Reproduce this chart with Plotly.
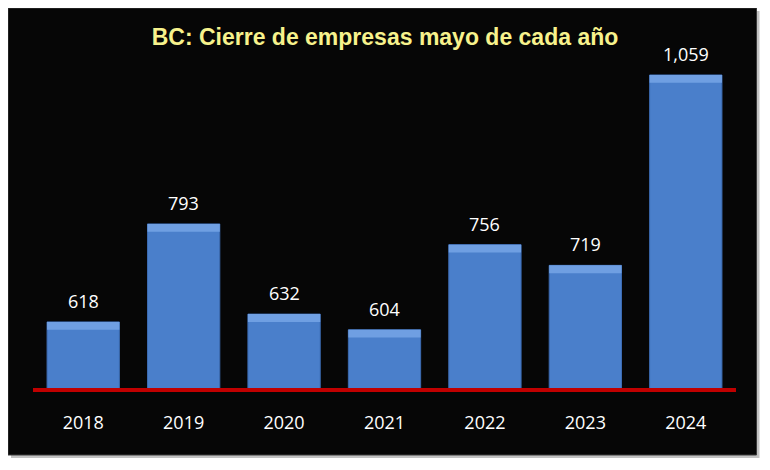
import plotly.graph_objects as go

years = ["2018", "2019", "2020", "2021", "2022", "2023", "2024"]
closures = [618, 793, 632, 604, 756, 719, 1059]
labels = ["618", "793", "632", "604", "756", "719", "1,059"]

W, H = 770, 470
OFF = 8  # page offset of the figure inside the window
ml, mt = 33 - OFF, 52 - OFF
pw, ph = 703.5, 336
mr = W - ml - pw
mb = H - mt - ph

fig = go.Figure()
fig.add_trace(go.Bar(
    x=years, y=closures, width=0.72,
    marker=dict(color="#4A7FCB", line=dict(color="#3C6BB2", width=1)),
    hoverinfo="skip", showlegend=False,
))
bevel = 14
fig.add_trace(go.Bar(
    x=years, y=[bevel] * len(closures), base=[v - bevel for v in closures],
    width=0.72, marker=dict(color="#6F9FE2", line=dict(width=0)),
    hoverinfo="skip", showlegend=False,
))

for i, (v, lab) in enumerate(zip(closures, labels)):
    fig.add_annotation(x=i, y=v, text=lab, showarrow=False, yanchor="middle",
                       yshift=21, font=dict(family="Open Sans", size=18, color="white"))

def px_x(p):
    return (p - OFF - ml) / pw

def px_y(p):
    return 1 - (p - OFF - mt) / ph

fig.add_shape(type="rect", xref="paper", yref="paper",
              x0=px_x(11), x1=px_x(760), y0=px_y(458), y1=px_y(11),
              fillcolor="#9A9A9A", line=dict(width=0), layer="below", opacity=0.6)
fig.add_shape(type="rect", xref="paper", yref="paper",
              x0=px_x(8), x1=px_x(757), y0=px_y(455), y1=px_y(8),
              fillcolor="#060606", line=dict(color="#3A3A3A", width=1), layer="below")

fig.update_layout(
    width=W, height=H,
    margin=dict(l=ml, r=mr, t=mt, b=mb),
    paper_bgcolor="white", plot_bgcolor="rgba(0,0,0,0)",
    barmode="overlay",
    title=dict(text="<b>BC: Cierre de empresas mayo de cada año</b>",
               x=(385 - OFF) / W, xanchor="center", xref="container",
               y=1 - (37 - OFF) / H, yanchor="middle", yref="container",
               font=dict(family="Liberation Sans", size=23, color="#F7F28C")),
    xaxis=dict(type="category", range=[-0.5, 6.5], showline=True,
               linecolor="#C00000", linewidth=4,
               showgrid=False, ticks="", ticklabelstandoff=15,
               tickfont=dict(family="Open Sans", size=18, color="white")),
    yaxis=dict(range=[500, 1100], visible=False, showgrid=False),
)

fig.write_html("out.html")
